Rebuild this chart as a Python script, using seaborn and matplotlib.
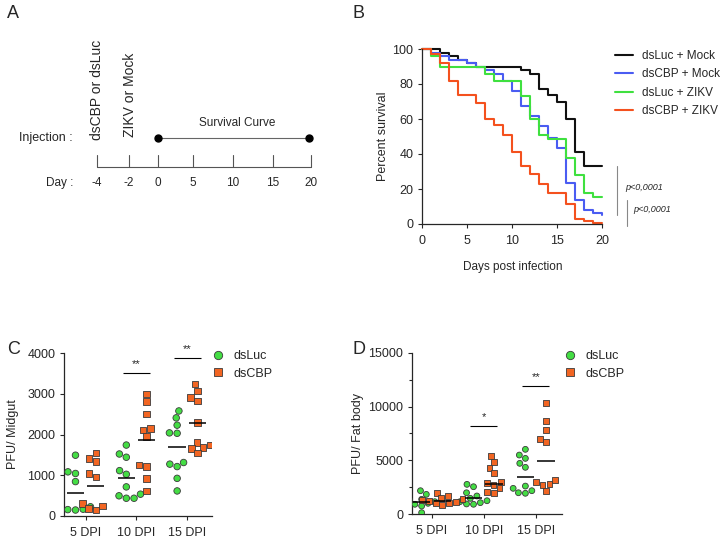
import numpy as np
import pandas as pd
import matplotlib
matplotlib.use('Agg')
import matplotlib.pyplot as plt
from matplotlib.lines import Line2D
import seaborn as sns

# ---- Panel B: survival (% alive from each day to the next) ----
days = list(range(21))
surv_luc_mock = [100, 100, 98, 96, 94, 92, 90, 90, 90, 90, 90, 88, 86, 77, 74, 69.5, 60, 41, 33, 33, 33]
surv_cbp_mock = [100, 98, 96, 94, 94, 92, 90, 88, 86, 82, 76, 67.5, 62, 56, 49, 43.5, 23.5, 13.5, 8, 6.5, 5]
surv_luc_zikv = [100, 96, 90, 90, 90, 90, 90, 86, 82, 82, 82, 73, 60, 51, 48.5, 48.5, 38, 28, 18, 15.5, 15.5]
surv_cbp_zikv = [100, 97, 92, 82, 74, 74, 69, 60, 56.5, 51, 41, 33, 28.5, 23, 18, 18, 11.5, 2.7, 1.5, 0.5, 0.5]
surv_groups = ['dsLuc + Mock', 'dsCBP + Mock', 'dsLuc + ZIKV', 'dsCBP + ZIKV']
surv_colors = ['#111111', '#4a5cf2', '#3fe03f', '#f4511e']
p_text = 'p<0,0001'

# ---- Panels C / D: PFU per tissue ----
dpi_labels = ['5 DPI', '10 DPI', '15 DPI']
treatments = ['dsLuc', 'dsCBP']

mg_luc_5 = [1490, 1080, 1040, 840, 260, 220, 180, 150, 140, 160]
mg_cbp_5 = [1540, 1410, 1330, 1040, 950, 300, 240, 180, 140]
mg_luc_10 = [1740, 1520, 1440, 1110, 1020, 710, 530, 490, 430, 430]
mg_cbp_10 = [3000, 2810, 2500, 2150, 2110, 1950, 1250, 1210, 920, 610]
mg_luc_15 = [2580, 2410, 2230, 2040, 2030, 1310, 1270, 1210, 920, 610]
mg_cbp_15 = [3240, 3070, 2910, 2820, 2300, 1800, 1740, 1680, 1660, 1550]
mg_mean_luc = [560, 940, 1680]
mg_mean_cbp = [740, 1870, 2280]
mg_sig = ['', '**', '**']
mg_sig_y = [0, 3520, 3880]

fb_luc_5 = [2190, 1850, 1480, 1390, 1330, 1170, 1020, 930, 770, 150]
fb_cbp_5 = [2000, 1700, 1480, 1390, 1330, 1260, 1170, 1080, 1020, 870]
fb_luc_10 = [2780, 2560, 2000, 1700, 1480, 1260, 1170, 1080, 960, 930]
fb_cbp_10 = [5440, 4880, 4320, 3860, 3020, 2880, 2720, 2410, 2100, 2000]
fb_luc_15 = [6030, 5500, 5190, 4730, 4360, 2620, 2410, 2190, 2000, 1950]
fb_cbp_15 = [10350, 8680, 7820, 6990, 6730, 3180, 2970, 2810, 2720, 2190]
fb_mean_luc = [1170, 1540, 3430]
fb_mean_cbp = [1260, 2810, 4940]
fb_sig = ['', '*', '**']
fb_sig_y = [0, 8160, 11900]

point_colors = {'dsLuc': '#44dd44', 'dsCBP': '#f26522'}
point_markers = {'dsLuc': 'o', 'dsCBP': 's'}

sns.set_style('ticks')
plt.rcParams['font.family'] = ['Liberation Sans', 'DejaVu Sans']
plt.rcParams['axes.linewidth'] = 0.9
plt.rcParams['xtick.major.width'] = 0.8
plt.rcParams['ytick.major.width'] = 0.8
plt.rcParams['xtick.major.size'] = 3
plt.rcParams['ytick.major.size'] = 3
plt.rcParams['xtick.labelsize'] = 9
plt.rcParams['ytick.labelsize'] = 9

W, H = 720, 538
fig = plt.figure(figsize=(7.2, 5.38), dpi=100)


def fx(px):
    return px / W


def fy(py):
    return 1 - py / H


# panel letters
for letter, (px, py) in zip('ABCD', [(7, 13), (352, 13), (7, 349), (352, 349)]):
    fig.text(fx(px), fy(py), letter, fontsize=13, ha='left', va='center')

# ---------------- Panel A: schematic ----------------
ax_a = fig.add_axes([0, 0.5, 0.5, 0.5])
ax_a.set_xlim(0, 360)
ax_a.set_ylim(269, 0)
ax_a.axis('off')
tl_labels = ['-4', '-2', '0', '5', '10', '15', '20']
tl_pos = [97, 129, 158, 193, 233, 273, 311]
ax_a.plot([tl_pos[0], tl_pos[-1]], [167, 167], color='#555555', lw=0.8)
for p, lab in zip(tl_pos, tl_labels):
    ax_a.plot([p, p], [155, 167], color='#555555', lw=0.8)
    ax_a.text(p, 183, lab, ha='center', va='center', fontsize=8.5)
ax_a.text(73, 183, 'Day :', ha='right', va='center', fontsize=8.5)
ax_a.text(73, 138, 'Injection :', ha='right', va='center', fontsize=9)
ax_a.plot([158, 309], [138, 138], color='#666666', lw=0.8)
ax_a.plot([158, 309], [138, 138], 'o', color='black', ms=5)
ax_a.text(237, 123, 'Survival Curve', ha='center', va='center', fontsize=8.5)
ax_a.text(97, 140, 'dsCBP or dsLuc', rotation=90, ha='center', va='bottom', fontsize=10)
ax_a.text(130, 137, 'ZIKV or Mock', rotation=90, ha='center', va='bottom', fontsize=10)

# ---------------- Panel B: survival curves ----------------
ax_b = fig.add_axes([fx(422.3), fy(224), fx(180), 175 / H])
surv = pd.DataFrame({
    'day': days * 4,
    'pct': surv_luc_mock + surv_cbp_mock + surv_luc_zikv + surv_cbp_zikv,
    'group': np.repeat(surv_groups, len(days)),
})
sns.lineplot(data=surv, x='day', y='pct', hue='group', hue_order=surv_groups,
             palette=surv_colors, drawstyle='steps-post', lw=1.5, ax=ax_b,
             clip_on=False)
ax_b.set_xlim(0, 20)
ax_b.set_ylim(0, 100)
ax_b.set_xticks([0, 5, 10, 15, 20])
ax_b.set_yticks([0, 20, 40, 60, 80, 100])
ax_b.set_xlabel('Days post infection', fontsize=8.5, labelpad=10)
ax_b.set_ylabel('Percent survival', fontsize=9, labelpad=2)
ax_b.tick_params(axis='x', pad=5)
sns.despine(ax=ax_b)
handles, labels = ax_b.get_legend_handles_labels()
ax_b.legend(handles, labels, loc='upper left', bbox_to_anchor=(fx(615), fy(50)),
            bbox_transform=fig.transFigure, frameon=False, fontsize=8.5,
            handlelength=1.5, handletextpad=0.75, labelspacing=0.55,
            borderpad=0, borderaxespad=0)
# log-rank brackets
fig.add_artist(Line2D([fx(617), fx(617)], [fy(166), fy(215)], color='#888888', lw=0.8))
fig.add_artist(Line2D([fx(627), fx(627)], [fy(200), fy(226)], color='#888888', lw=0.8))
fig.text(fx(625), fy(187), p_text, style='italic', fontsize=6.5, va='center')
fig.text(fx(633), fy(209), p_text, style='italic', fontsize=6.5, va='center')


# ---------------- Panels C and D ----------------
def pfu_frame(groups):
    rows = []
    for (day, treat), vals in groups.items():
        for v in vals:
            rows.append({'day': day, 'treat': treat, 'pfu': v})
    return pd.DataFrame(rows)


def dot_panel(ax, df, means_luc, means_cbp, sig, sig_y, size):
    for t in treatments:
        sns.swarmplot(data=df[df['treat'] == t], x='day', y='pfu', hue='treat',
                      order=dpi_labels, hue_order=treatments, dodge=True,
                      palette=point_colors, marker=point_markers[t], size=size,
                      edgecolor='#3a3a3a', linewidth=0.6, legend=False, ax=ax)
    pos = np.arange(len(dpi_labels))
    ax.hlines(means_luc, pos - 0.2 - 0.17, pos - 0.2 + 0.17, color='black', lw=1.1, zorder=5)
    ax.hlines(means_cbp, pos + 0.2 - 0.17, pos + 0.2 + 0.17, color='black', lw=1.1, zorder=5)
    for i, (s, y) in enumerate(zip(sig, sig_y)):
        if s:
            ax.hlines(y, i - 0.26, i + 0.26, color='black', lw=0.8)
            ax.annotate(s, (i, y), xytext=(0, 3), textcoords='offset points',
                        ha='center', va='bottom', fontsize=8)
    ax.set_xlabel('')
    ax.tick_params(axis='x', pad=5)
    sns.despine(ax=ax)
    legend_handles = [Line2D([], [], ls='none', marker=point_markers[t], ms=6,
                             mfc=point_colors[t], mec='#3a3a3a', mew=0.6)
                      for t in treatments]
    return legend_handles


mg = pfu_frame({
    ('5 DPI', 'dsLuc'): mg_luc_5, ('5 DPI', 'dsCBP'): mg_cbp_5,
    ('10 DPI', 'dsLuc'): mg_luc_10, ('10 DPI', 'dsCBP'): mg_cbp_10,
    ('15 DPI', 'dsLuc'): mg_luc_15, ('15 DPI', 'dsCBP'): mg_cbp_15,
})
fb = pfu_frame({
    ('5 DPI', 'dsLuc'): fb_luc_5, ('5 DPI', 'dsCBP'): fb_cbp_5,
    ('10 DPI', 'dsLuc'): fb_luc_10, ('10 DPI', 'dsCBP'): fb_cbp_10,
    ('15 DPI', 'dsLuc'): fb_luc_15, ('15 DPI', 'dsCBP'): fb_cbp_15,
})

ax_c = fig.add_axes([fx(64.3), fy(515.7), fx(147.4), 162.4 / H])
hc = dot_panel(ax_c, mg, mg_mean_luc, mg_mean_cbp, mg_sig, mg_sig_y, 4.7)
ax_c.set_xlim(-0.42, 2.48)
ax_c.set_ylim(0, 4000)
ax_c.set_yticks([0, 1000, 2000, 3000, 4000])
ax_c.set_ylabel('PFU/ Midgut', fontsize=9, labelpad=6)
ax_c.legend(hc, treatments, loc='upper left', bbox_to_anchor=(fx(212), fy(350)),
            bbox_transform=fig.transFigure, frameon=False, fontsize=9,
            handlelength=1.0, handletextpad=0.7, labelspacing=0.45,
            borderpad=0, borderaxespad=0)

ax_d = fig.add_axes([fx(412.3), fy(514.3), fx(149.4), 161.6 / H])
hd = dot_panel(ax_d, fb, fb_mean_luc, fb_mean_cbp, fb_sig, fb_sig_y, 4.2)
ax_d.set_xlim(-0.38, 2.5)
ax_d.set_ylim(0, 15000)
ax_d.set_yticks([0, 5000, 10000, 15000])
ax_d.set_yticks([2500, 7500, 12500], minor=True)
ax_d.tick_params(axis='y', which='minor', length=2, width=0.8)
ax_d.set_ylabel('PFU/ Fat body', fontsize=9, labelpad=3)
ax_d.legend(hd, treatments, loc='upper left', bbox_to_anchor=(fx(564), fy(350)),
            bbox_transform=fig.transFigure, frameon=False, fontsize=9,
            handlelength=1.0, handletextpad=0.7, labelspacing=0.45,
            borderpad=0, borderaxespad=0)

fig.savefig('out.png', dpi=100)
